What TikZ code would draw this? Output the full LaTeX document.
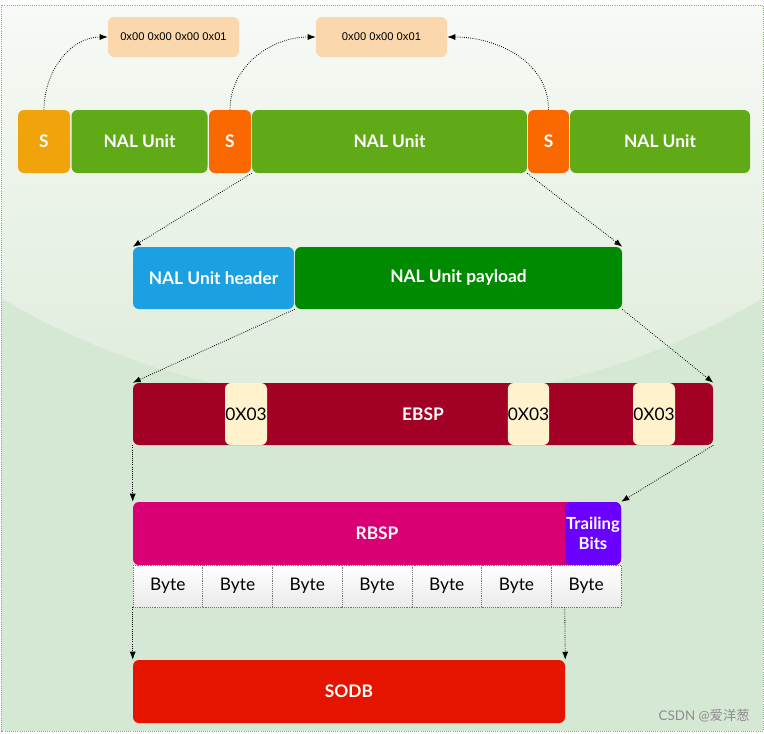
\documentclass[tikz,border=0pt]{standalone}
\usepackage{fontspec}
\setmainfont{Lato}
\newfontfamily\hexfont{Liberation Sans}
\newfontfamily\cjkfont{Noto Sans CJK SC}
\usetikzlibrary{arrows.meta}
\definecolor{bgout}{HTML}{D5E8D4}
\definecolor{bgline}{HTML}{82B366}
\definecolor{glasstop}{HTML}{F7FAF6}
\definecolor{glassbot}{HTML}{DEECDB}
\definecolor{sorange}{HTML}{F0A30A}
\definecolor{sred}{HTML}{FA6800}
\definecolor{nalgreen}{HTML}{60A917}
\definecolor{peach}{HTML}{FAD7AC}
\definecolor{hdrblue}{HTML}{1BA1E2}
\definecolor{paygreen}{HTML}{008A00}
\definecolor{ebspred}{HTML}{A20025}
\definecolor{zerobg}{HTML}{FFF2CC}
\definecolor{rbspmag}{HTML}{D80073}
\definecolor{trailvio}{HTML}{6A00FF}
\definecolor{sodbred}{HTML}{E51400}
\definecolor{bytebot}{HTML}{EAEAEA}
\tikzset{
  bw/.style={minimum width=#1*0.75pt},
  bh/.style={minimum height=#1*0.75pt},
  blk/.style={rounded corners=4.5pt, inner sep=0pt, text=white,
    font=\fontsize{13}{15}\selectfont\bfseries, bh=63},
  hexbox/.style={rounded corners=4.5pt, inner sep=0pt, fill=peach, text=black,
    font=\hexfont\fontsize{8.4}{10}\selectfont, bh=40, bw=131},
  zerobox/.style={rounded corners=4.5pt, inner sep=0pt, fill=zerobg, text=black,
    font=\fontsize{13}{15}\selectfont, bh=62},
  bytecell/.style={draw=black!55, densely dotted, inner sep=0pt, text=black,
    top color=white, bottom color=bytebot, font=\fontsize{13}{15}\selectfont,
    bw=69.714, bh=42},
  conn/.style={densely dotted, line width=0.6pt, -{Latex[length=6pt,width=4.5pt]}},
}
\begin{document}
\begin{tikzpicture}[x=0.75pt,y=-0.75pt]
\useasboundingbox (0,0) rectangle (764,733);
% background
\fill[white] (0,0) rectangle (764,733);
\fill[bgout] (1,5) rectangle (763,731);
\begin{scope}
  \clip (1,5) rectangle (763,731);
  \clip (382,-348) circle [radius=562.5pt];
  \shade[top color=glasstop, bottom color=glassbot] (1,5) rectangle (763,402);
\end{scope}
\draw[bgline, densely dotted, line width=0.6pt] (1,5) rectangle (763,731);

% top row
\node[blk, fill=sorange, bw=52] (s1) at (44,141.5) {S};
\node[blk, fill=nalgreen, bw=136] (nal1) at (139.5,141.5) {NAL Unit};
\node[blk, fill=sred, bw=42] (s2) at (230,141.5) {S};
\node[blk, fill=nalgreen, bw=275] (nal2) at (389.5,141.5) {NAL Unit};
\node[blk, fill=sred, bw=41] (s3) at (548.5,141.5) {S};
\node[blk, fill=nalgreen, bw=180] (nal3) at (660,141.5) {NAL Unit};

% start codes
\node[hexbox] (hex1) at (173.5,37) {0x00 0x00 0x00 0x01};
\node[hexbox] (hex2) at (381.5,37) {0x00 0x00 0x01};
\draw[conn] (s1.north) to[out=90,in=180] (hex1.west);
\draw[conn] (s2.north) to[out=90,in=180] (hex2.west);
\draw[conn] (s3.north) to[out=90,in=0] (hex2.east);

% header / payload
\node[blk, fill=hdrblue, bw=161, bh=62] (hdr) at (213.5,278) {NAL Unit header};
\node[blk, fill=paygreen, bw=327, bh=62] (pay) at (458.5,278) {NAL Unit payload};
\draw[conn] (nal2.south west) -- (hdr.north west);
\draw[conn] (nal2.south east) -- (pay.north east);

% EBSP
\node[blk, fill=ebspred, bw=580, bh=62] (ebsp) at (423,414) {};
\node[zerobox, bw=42] (z1) at (246,414) {0X03};
\node[zerobox, bw=41] (z2) at (528.5,414) {0X03};
\node[zerobox, bw=42] (z3) at (654,414) {0X03};
\node[text=white, font=\fontsize{13}{15}\selectfont\bfseries] (ebsplbl) at (423,414) {EBSP};
\draw[conn] (pay.south west) -- (ebsp.north west);
\draw[conn] (pay.south east) -- (ebsp.north east);

% RBSP
\node[blk, fill=rbspmag, bw=488, bh=63] (rbsp) at (377,533.5) {RBSP};
\node[blk, fill=trailvio, bw=56, bh=63, align=center,
  font=\fontsize{12.5}{15}\selectfont\bfseries] (trail) at (593,533.5) {Trailing\\Bits};
\draw[conn] (ebsp.south west) -- (rbsp.north west);
\draw[conn] (ebsp.south east) -- (trail.north east);

% bytes
\foreach \i in {0,...,6}{
  \node[bytecell] (b\i) at (133+69.714*\i+34.857,586) {Byte};
}
\coordinate (tb) at (trail.west |- b6.south);

% SODB
\node[blk, fill=sodbred, bw=432, bh=63] (sodb) at (349,691.5) {SODB};
\draw[conn] (b0.south west) -- (sodb.north west);
\draw[conn] (tb) -- (sodb.north east);

% watermark
\node[text=black!45, font=\fontsize{10}{12}\selectfont, anchor=east, inner sep=0pt] (wm)
  at (750,716) {CSDN @\cjkfont 爱洋葱};
\end{tikzpicture}
\end{document}
